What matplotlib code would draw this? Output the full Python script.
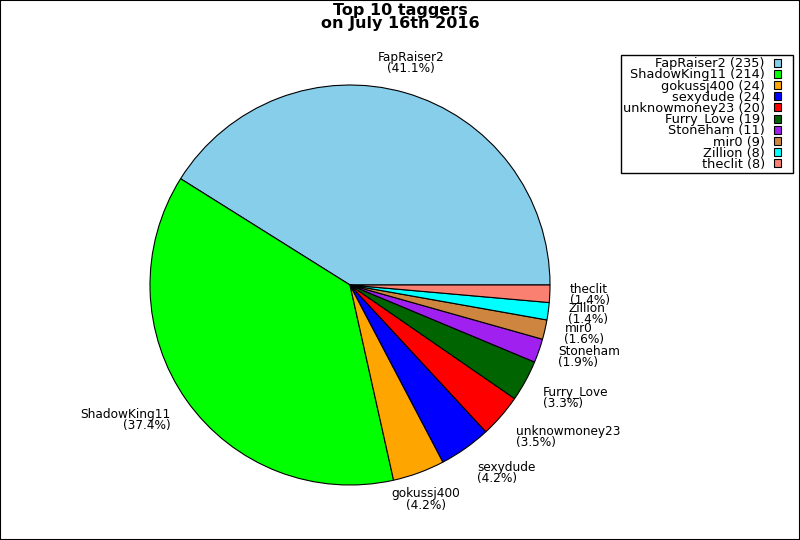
import numpy as np
import matplotlib
matplotlib.use("Agg")
import matplotlib.pyplot as plt
from matplotlib.patches import Rectangle
from matplotlib.legend_handler import HandlerPatch

# data
names = ["FapRaiser2", "ShadowKing11", "gokussj400", "sexydude", "unknowmoney23",
         "Furry_Love", "Stoneham", "mir0", "Zillion", "theclit"]
counts = [235, 214, 24, 24, 20, 19, 11, 9, 8, 8]
colors = ["#87ceeb", "#00ff00", "#ffa500", "#0000ff", "#ff0000",
          "#006400", "#a020f0", "#cd853f", "#00ffff", "#fa8072"]

fig = plt.figure(figsize=(8, 5.4), dpi=100)
ax = fig.add_axes([150 / 800, 55 / 540, 400 / 800, 400 / 540])

wedges, _ = ax.pie(counts, colors=colors, startangle=0, counterclock=True,
                   wedgeprops=dict(edgecolor="black", linewidth=0.8))
ax.set_xlim(-1, 1)
ax.set_ylim(-1, 1)
ax.set_aspect("auto")

total = sum(counts)
lim = np.cos(np.deg2rad(67.5))
for w, n, c in zip(wedges, names, counts):
    ang = np.deg2rad((w.theta1 + w.theta2) / 2)
    cx, sy = np.cos(ang), np.sin(ang)
    ha = "left" if cx > lim else ("right" if cx < -lim else "center")
    va = "bottom" if sy > lim else ("top" if sy < -lim else "center")
    dy = 3 if va == "top" else (-1 if va == "bottom" else 0)
    ax.annotate(f"{n}\n({100 * c / total:.1f}%)", xy=(1.1 * cx, 1.1 * sy),
                xytext=(0, dy), textcoords="offset points", ha=ha, va=va,
                multialignment=ha, fontsize=8.7, linespacing=0.82,
                annotation_clip=False)


# small square on the left of a wider handle box (leaves room on the right)
def small_box(legend, orig_handle, xdescent, ydescent, width, height, fontsize):
    w, h = 5.0, 5.8
    return Rectangle((-xdescent, -ydescent + (height - h) / 2), w, h)


leg_labels = [f"{n} ({c})" for n, c in zip(names, counts)]
leg = fig.legend(wedges, leg_labels, loc="upper right",
                 bbox_to_anchor=(793 / 800, 1 - 55 / 540),
                 markerfirst=False, fontsize=9.3, labelspacing=-0.14, handlelength=1.3,
                 handleheight=0.7, handletextpad=0.7, borderpad=0.17, borderaxespad=0,
                 fancybox=False, edgecolor="black", framealpha=1,
                 handler_map={matplotlib.patches.Wedge: HandlerPatch(patch_func=small_box)})

fig.suptitle("Top 10 taggers\non July 16th 2016", fontsize=11.5, fontweight="bold",
             y=0.995, linespacing=0.85)

fig.patches.append(Rectangle((0, 0), 1, 1, transform=fig.transFigure, fill=False,
                             edgecolor="black", linewidth=1.5))

fig.savefig("out.png", dpi=100)
